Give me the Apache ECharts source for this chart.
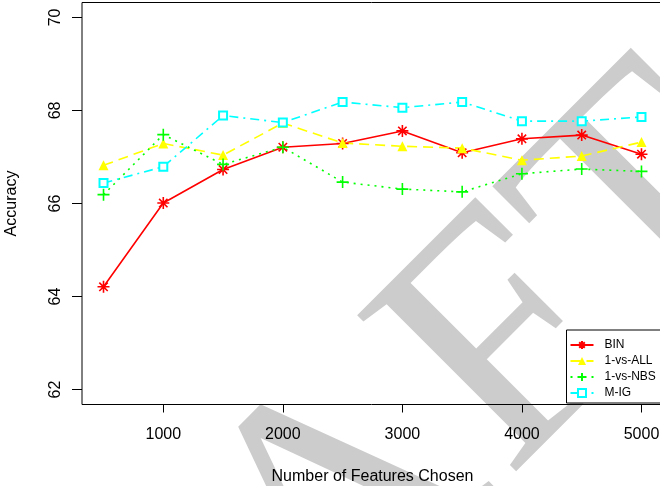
<!doctype html>
<html>
<head>
  <meta charset="utf-8">
  <title>Accuracy vs Number of Features</title>
  <script src="https://cdn.jsdelivr.net/npm/echarts@6/dist/echarts.min.js"></script>
  <style>
    html, body { margin: 0; padding: 0; background: #fff; }
    #chart { width: 660px; height: 486px; }
  </style>
</head>
<body>
  <div id="chart"></div>
  <script>
    // data
    const features = [500, 1000, 1500, 2000, 2500, 3000, 3500, 4000, 4500, 5000];
    const bin      = [64.21, 66.01, 66.73, 67.21, 67.29, 67.56, 67.09, 67.39, 67.47, 67.06];
    const oneVsAll = [66.82, 67.29, 67.04, 67.73, 67.30, 67.23, 67.19, 66.93, 67.02, 67.32];
    const oneVsNbs = [66.19, 67.48, 66.84, 67.21, 66.46, 66.31, 66.25, 66.64, 66.74, 66.69];
    const mig      = [66.44, 66.79, 67.89, 67.74, 68.18, 68.06, 68.18, 67.77, 67.77, 67.86];
    const xTicks = [1000, 2000, 3000, 4000, 5000];
    const yTicks = [62, 64, 66, 68, 70];

    const font = 'Liberation Sans';
    const asterisk = 'path://M5,0L5,10M0,5L10,5M1.5,1.5L8.5,8.5M8.5,1.5L1.5,8.5';
    const plus = 'path://M5,0L5,10M0,5L10,5';

    function pairs(ys) {
      return features.map((x, i) => [x, ys[i]]);
    }

    function line(name, ys, color, type, symbol, size, filled) {
      return {
        name: name,
        type: 'line',
        data: pairs(ys),
        symbol: symbol,
        symbolSize: size,
        showAllSymbol: true,
        lineStyle: { color: color, width: 1.6, type: type },
        itemStyle: {
          color: color,
          borderColor: color,
          borderWidth: filled ? 0 : 1.6
        },
        emphasis: { disabled: true }
      };
    }

    // grey "DRAFT" stamp, one letter at a time along a 45 degree baseline
    const stampSize = 340;
    const stampX = -63, stampY = 924;
    const stamp = [
      { ch: 'D', u: 0,     dx: 0,   dy: 0 },
      { ch: 'R', u: 0.722, dx: 0,   dy: 0 },
      { ch: 'A', u: 1.389, dx: -11, dy: 6 },
      { ch: 'F', u: 2.111, dx: 0,   dy: 0 },
      { ch: 'T', u: 2.667, dx: 4,   dy: 2 }
    ].map(l => ({
      type: 'text',
      x: stampX + l.u * stampSize * Math.SQRT1_2 + l.dx,
      y: stampY - l.u * stampSize * Math.SQRT1_2 + l.dy,
      rotation: Math.PI / 4,
      z: -1,
      silent: true,
      style: {
        text: l.ch,
        font: stampSize + 'px "Liberation Serif"',
        fill: '#cccccc',
        align: 'left',
        verticalAlign: 'middle'
      }
    }));

    const chart = echarts.init(document.getElementById('chart'));
    chart.setOption({
      animation: false,
      backgroundColor: '#fff',
      textStyle: { fontFamily: font },
      graphic: stamp,
      grid: {
        left: 82, right: -3, top: 2.5, bottom: 81.5,
        show: true, borderColor: '#000', borderWidth: 1,
        outerBoundsMode: 'none'
      },
      legend: {
        orient: 'vertical',
        left: 566.5, top: 330,
        padding: [9, 30, 4, 3],
        itemWidth: 23, itemHeight: 10, itemGap: 4,
        backgroundColor: '#fff',
        borderColor: '#000', borderWidth: 1, borderRadius: 0,
        textStyle: { fontFamily: font, fontSize: 12, color: '#000', padding: [0, 0, 0, 6] },
        data: ['BIN', '1-vs-ALL', '1-vs-NBS', 'M-IG']
      },
      xAxis: {
        type: 'value',
        min: 320, max: 5180,
        name: 'Number of Features Chosen',
        nameLocation: 'middle',
        nameGap: 64,
        nameTextStyle: { fontFamily: font, fontSize: 16, color: '#000' },
        axisLine: { show: false },
        axisTick: { show: true, length: 8, lineStyle: { color: '#000' }, customValues: xTicks },
        axisLabel: {
          fontFamily: font, fontSize: 16, color: '#000', margin: 22,
          customValues: xTicks, formatter: v => String(v)
        },
        splitLine: { show: false }
      },
      yAxis: {
        type: 'value',
        min: 61.68, max: 70.32,
        name: 'Accuracy',
        nameLocation: 'middle',
        nameGap: 62,
        nameTextStyle: { fontFamily: font, fontSize: 16, color: '#000' },
        axisLine: { show: false },
        axisTick: { show: true, length: 10, lineStyle: { color: '#000' }, customValues: yTicks },
        axisLabel: {
          fontFamily: font, fontSize: 16, color: '#000', margin: 18, rotate: 90,
          customValues: yTicks, formatter: v => String(v)
        },
        splitLine: { show: false }
      },
      series: [
        line('BIN', bin, '#ff0000', 'solid', asterisk, 12, false),
        line('1-vs-ALL', oneVsAll, '#ffff00', [10, 6], 'triangle', 10, true),
        line('1-vs-NBS', oneVsNbs, '#00ff00', [2, 5], plus, 12, false),
        line('M-IG', mig, '#00ffff', [9, 5, 2, 5], 'emptyRect', 8, false)
      ]
    });
  </script>
</body>
</html>
